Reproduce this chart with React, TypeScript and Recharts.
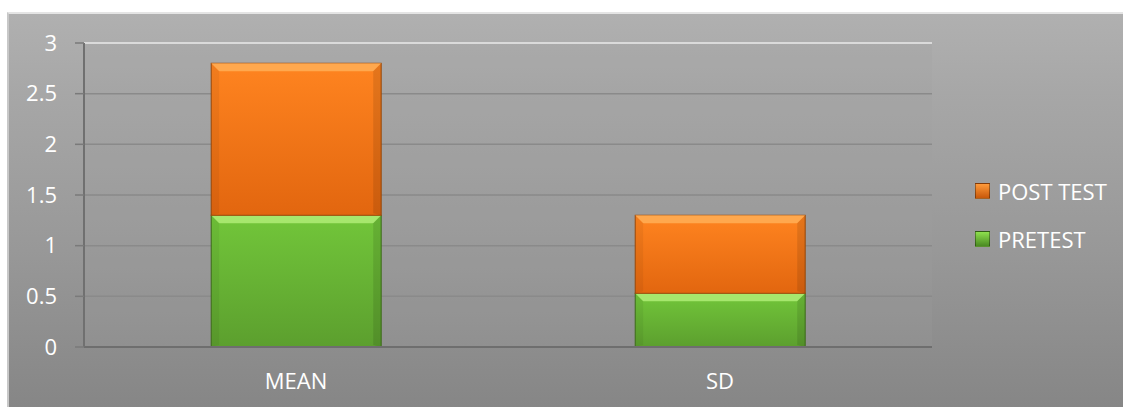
import React from 'react';
import { BarChart, Bar, XAxis, YAxis, CartesianGrid, ReferenceLine } from 'recharts';

const categories = ['MEAN', 'SD'];
const pretest = [1.3, 0.53];
const posttest = [1.5, 0.77];
const yTicks = [0, 0.5, 1, 1.5, 2, 2.5, 3];

const data = categories.map((name, i) => ({
  name,
  pretest: pretest[i],
  posttest: posttest[i],
}));

const FONT = '"Open Sans", "Liberation Sans", sans-serif';

// bar with a bevelled top edge, like the office "3-D" style
const BevelBar = (props: any) => {
  const { x, y, width, height, gradId, light, dark } = props;
  if (!height || height <= 0) return null;
  const b = Math.min(8, height / 3);
  return (
    <g>
      <rect x={x} y={y} width={width} height={height} fill={`url(#${gradId})`} stroke={dark} strokeWidth={1} />
      <polygon
        points={`${x},${y} ${x + width},${y} ${x + width - b},${y + b} ${x + b},${y + b}`}
        fill={light}
        opacity={0.8}
      />
      <polygon
        points={`${x},${y} ${x + b},${y + b} ${x + b},${y + height - 2} ${x},${y + height}`}
        fill="#000"
        opacity={0.05}
      />
      <polygon
        points={`${x + width},${y} ${x + width - b},${y + b} ${x + width - b},${y + height - 2} ${x + width},${y + height}`}
        fill="#000"
        opacity={0.1}
      />
    </g>
  );
};

const legendItems = [
  { label: 'POST TEST', top: '#ff9a3a', bottom: '#c8580a' },
  { label: 'PRETEST', top: '#8ee04e', bottom: '#4a8a22' },
];

const LegendBox = () => (
  <div style={{ position: 'absolute', left: 966, top: 153, fontFamily: FONT, fontSize: 22, color: '#fff' }}>
    {legendItems.map((it) => (
      <div key={it.label} style={{ display: 'flex', alignItems: 'center', height: 48 }}>
        <span
          style={{
            display: 'inline-block',
            width: 13,
            height: 14,
            marginRight: 8,
            background: `linear-gradient(${it.top}, ${it.bottom})`,
            border: '1px solid rgba(0,0,0,0.35)',
          }}
        />
        <span>{it.label}</span>
      </div>
    ))}
  </div>
);

export default function App() {
  return (
    <div
      style={{
        position: 'absolute',
        left: 7,
        top: 12,
        width: 1116,
        height: 395,
        background: 'linear-gradient(#b0b0b0 0%, #a7a7a7 20%, #989898 60%, #868686 100%)',
        borderTop: '2px solid #e4e4e4',
        borderLeft: '2px solid #c8c8c8',
        boxSizing: 'border-box',
      }}
    >
      <BarChart
        width={1114}
        height={393}
        data={data}
        margin={{ top: 29, right: 191, bottom: 20, left: 15 }}
        barCategoryGap="30%"
      >
        <defs>
          <linearGradient id="gOrange" x1="0" y1="0" x2="0" y2="1">
            <stop offset="0%" stopColor="#ff8420" />
            <stop offset="100%" stopColor="#e2660f" />
          </linearGradient>
          <linearGradient id="gGreen" x1="0" y1="0" x2="0" y2="1">
            <stop offset="0%" stopColor="#72c63a" />
            <stop offset="100%" stopColor="#5c9f2e" />
          </linearGradient>
        </defs>
        <CartesianGrid vertical={false} stroke="#8a8a8a" strokeWidth={1.5} fill="#a0a0a0" fillOpacity={0.2} />
        <XAxis
          dataKey="name"
          height={40}
          axisLine={{ stroke: '#6e6e6e', strokeWidth: 2 }}
          tickLine={false}
          tick={{ fill: '#ffffff', fontSize: 22, fontFamily: FONT }}
          tickMargin={20}
        />
        <YAxis
          width={60}
          domain={[0, 3]}
          ticks={yTicks}
          interval={0}
          axisLine={{ stroke: '#707070', strokeWidth: 2 }}
          tickLine={{ stroke: '#7a7a7a', strokeWidth: 1.5 }}
          tickSize={9}
          tickMargin={18}
          tick={{ fill: '#ffffff', fontSize: 22, fontFamily: FONT }}
        />
        <YAxis
          yAxisId="edge"
          orientation="right"
          width={0}
          domain={[0, 3]}
          tick={false}
          tickLine={false}
          axisLine={{ stroke: '#6a6a6a', strokeWidth: 2 }}
        />
        <ReferenceLine y={3} stroke="#dadada" strokeWidth={2} />
        <Bar
          dataKey="pretest"
          stackId="a"
          name="PRETEST"
          isAnimationActive={false}
          shape={(p: any) => <BevelBar {...p} gradId="gGreen" light="#b4f07a" dark="#3f6e1c" />}
        />
        <Bar
          dataKey="posttest"
          stackId="a"
          name="POST TEST"
          isAnimationActive={false}
          shape={(p: any) => <BevelBar {...p} gradId="gOrange" light="#ffb15a" dark="#9c4a0a" />}
        />
      </BarChart>
      <LegendBox />
    </div>
  );
}
